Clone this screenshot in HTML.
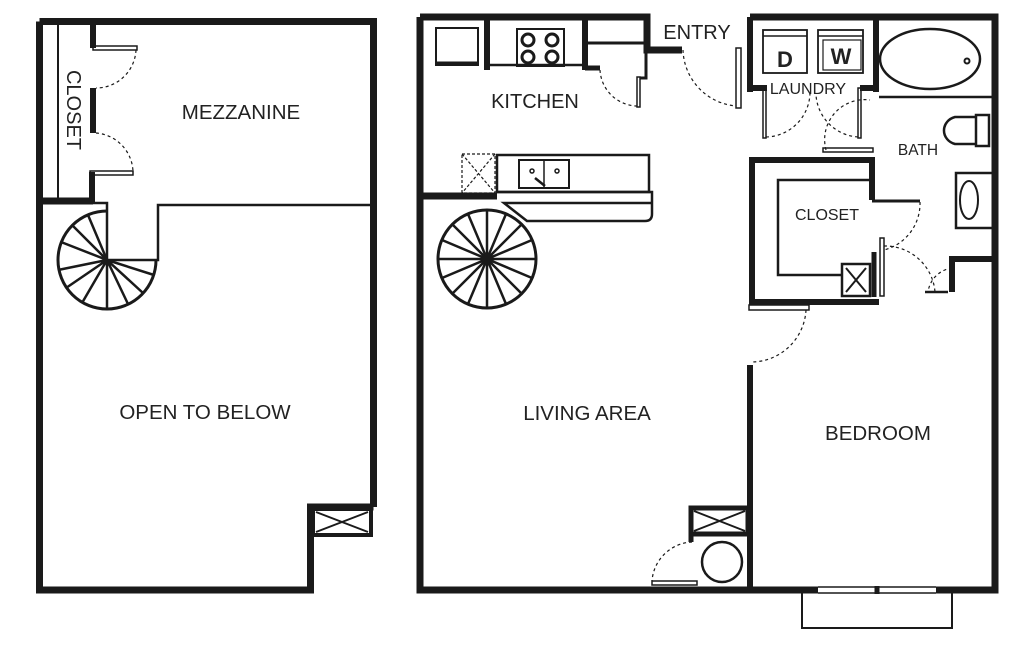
<!DOCTYPE html>
<html><head><meta charset="utf-8"><style>
html,body{margin:0;padding:0;background:#fff;}
svg{display:block;}
text{font-family:"Liberation Sans",sans-serif;fill:#222;}
</style></head><body>
<svg width="1024" height="646" viewBox="0 0 1024 646" xmlns="http://www.w3.org/2000/svg">
<g fill="none" stroke="#1a1a1a">
<!-- LEFT PLAN -->
<path d="M39.5 21.5 H373.5 V507 M39.5 21.5 V590 H310.5 V507 H373.5" stroke-width="7"/>
<rect x="313" y="509" width="58" height="26" stroke-width="4"/>
<path d="M316 512 L368 532 M368 512 L316 532" stroke-width="2"/>
<path d="M58 24 V200" stroke-width="2"/>
<path d="M39 201 H93" stroke-width="7"/>
<path d="M93 24 V48 M93 88 V133 M92 172 V203" stroke-width="6"/>
<rect x="93" y="46" width="44" height="4" stroke-width="1.5"/>
<rect x="90" y="171" width="43" height="4" stroke-width="1.5"/>
<path d="M136 50 A40 40 0 0 1 96 88 M96 133 A40 40 0 0 1 133 172" stroke-width="1.2" stroke-dasharray="3,3"/>
<path d="M93 203 H107 V260 H158 V205 H373" stroke-width="2.5"/>
<path d="M107 211 A49 49 0 1 0 156 260" stroke-width="3"/>
<g stroke-width="2.5">
<path d="M107 260 L88 215 M107 260 L72 225 M107 260 L61 242 M107 260 L58 270 M107 260 L66 288 M107 260 L82 303 M107 260 L107 309 M107 260 L128 304 M107 260 L143 293 M107 260 L154 275"/>
</g>
<!-- RIGHT PLAN outer -->
<path d="M420 17 V590 H995 V17 H750 M420 17 H647 V50 H682" stroke-width="7"/>
<path d="M750 17 V92 M876 17 V92" stroke-width="6"/>
<!-- kitchen -->
<rect x="436" y="28" width="42" height="37" stroke-width="2"/>
<path d="M436 63 H478" stroke-width="3"/>
<path d="M487 17 V70 M585 17 V70" stroke-width="6"/>
<path d="M487 65 H585" stroke-width="2.5"/>
<rect x="517" y="29" width="47" height="37" stroke-width="2"/>
<circle cx="528" cy="40" r="6" stroke-width="3"/><circle cx="552" cy="40" r="6" stroke-width="3"/>
<circle cx="528" cy="57" r="6" stroke-width="3"/><circle cx="552" cy="57" r="6" stroke-width="3"/>
<path d="M585 43 H646" stroke-width="3"/>
<path d="M585 68 H600" stroke-width="5"/>
<path d="M646 50 V78 H640" stroke-width="3"/>
<rect x="637" y="77" width="3" height="30" stroke-width="1.5"/>
<path d="M600 70 A38 38 0 0 0 637 106" stroke-width="1.2" stroke-dasharray="3,3"/>
<!-- entry door -->
<rect x="736" y="48" width="5" height="60" stroke-width="1.5"/>
<path d="M683 50 A58 58 0 0 0 736 106" stroke-width="1.2" stroke-dasharray="3,3"/>
<!-- laundry -->
<rect x="763" y="30" width="44" height="43" stroke-width="1.8"/>
<rect x="818" y="30" width="45" height="43" stroke-width="1.8"/>
<path d="M763 36 H807 M818 36 H863" stroke-width="1.5"/>
<rect x="823" y="40" width="38" height="30" stroke-width="1.2"/>
<path d="M750 88 H767 M860 88 H879" stroke-width="6"/>
<rect x="763" y="88" width="3" height="50" stroke-width="1.5"/>
<rect x="858" y="88" width="3" height="50" stroke-width="1.5"/>
<path d="M766 137 A45 45 0 0 0 810 92 M858 137 A45 45 0 0 1 816 95 M826 150 A40 40 0 0 1 870 100" stroke-width="1.2" stroke-dasharray="3,3"/>
<!-- bath -->
<path d="M879 97 H993" stroke-width="2.5"/>
<ellipse cx="930" cy="59" rx="50" ry="30" stroke-width="2.5"/>
<circle cx="967" cy="61" r="2.5" stroke-width="2"/>
<path d="M976 115 H989 V146 H976 Z" stroke-width="2.5"/>
<path d="M976 117 H955 A15 14 0 0 0 955 144 H976" stroke-width="2.5"/>
<rect x="956" y="173" width="37" height="55" stroke-width="2.5"/>
<ellipse cx="969" cy="200" rx="9" ry="19" stroke-width="2"/>
<path d="M949 259 H993 M952 259 V292" stroke-width="6"/>
<path d="M925 292 H948" stroke-width="2.5"/>
<path d="M952 268 A28 28 0 0 0 928 292" stroke-width="1.2" stroke-dasharray="3,3"/>
<!-- closet -->
<path d="M752 160 H872 V200 M752 157 V302 H879" stroke-width="6"/>
<rect x="823" y="148" width="50" height="4" stroke-width="1.5"/>
<path d="M872 201 H920" stroke-width="3"/>
<path d="M842 275 H778 V180 H869" stroke-width="2.5"/>
<rect x="842" y="264" width="28" height="32" stroke-width="2.5"/>
<path d="M846 268 L866 292 M866 268 L846 292" stroke-width="2"/>
<path d="M874 252 V297" stroke-width="5"/>
<rect x="880" y="238" width="4" height="58" stroke-width="1.5"/>
<path d="M920 202 A48 48 0 0 1 884 250 M884 246 A50 50 0 0 1 935 292" stroke-width="1.2" stroke-dasharray="3,3"/>
<!-- bedroom wall & door -->
<path d="M750 365 V590" stroke-width="6"/>
<rect x="749" y="305" width="60" height="5" stroke-width="1.5"/>
<path d="M806 310 A55 55 0 0 1 751 362" stroke-width="1.2" stroke-dasharray="3,3"/>
<!-- island -->
<path d="M420 196 H497" stroke-width="7"/>
<rect x="462" y="154" width="33" height="39" stroke-width="1.2" stroke-dasharray="3,2"/>
<path d="M462 154 L495 193 M495 154 L462 193" stroke-width="1.2" stroke-dasharray="3,2"/>
<rect x="497" y="155" width="152" height="37" stroke-width="2.5"/>
<rect x="519" y="160" width="50" height="28" stroke-width="2"/>
<path d="M544 160 V188" stroke-width="1.5"/>
<circle cx="532" cy="171" r="2" stroke-width="1.5"/><circle cx="557" cy="171" r="2" stroke-width="1.5"/>
<path d="M535 178 L545 186" stroke-width="2.5"/>
<path d="M497 192 H652 V214 Q652 221 645 221 H527 L504 203 H652" stroke-width="2.5"/>
<!-- spiral -->
<circle cx="487" cy="259" r="49" stroke-width="3"/>
<g stroke-width="2.5">
<path d="M487 210 V308 M438 259 H536 M452 224 L522 294 M522 224 L452 294 M468 214 L506 304 M506 214 L468 304 M442 240 L532 278 M532 240 L442 278"/>
</g>
<!-- bottom -->
<rect x="691" y="508" width="57" height="26" stroke-width="5"/>
<path d="M694 511 L745 531 M745 511 L694 531" stroke-width="2"/>
<path d="M691 534 V542" stroke-width="5"/>
<circle cx="722" cy="562" r="20" stroke-width="2.5"/>
<rect x="652" y="581" width="45" height="4" stroke-width="1.5"/>
<path d="M692 542 A42 42 0 0 0 652 581" stroke-width="1.2" stroke-dasharray="3,3"/>
<rect x="818" y="587" width="118" height="6" fill="#fff" stroke="none"/>
<path d="M818 587 H936 M818 593 H936" stroke-width="1.5"/>
<path d="M877 586 V594" stroke-width="5"/>
<path d="M802 593 V628 H952 V593" stroke-width="2"/>
</g>
<text x="241" y="119" font-size="20.5" text-anchor="middle">MEZZANINE</text>
<text x="0" y="0" font-size="20" text-anchor="middle" transform="translate(67,110) rotate(90)">CLOSET</text>
<text x="205" y="419" font-size="20.5" text-anchor="middle">OPEN TO BELOW</text>
<text x="587" y="420" font-size="20.5" text-anchor="middle">LIVING AREA</text>
<text x="878" y="440" font-size="20.5" text-anchor="middle">BEDROOM</text>
<text x="535" y="108" font-size="20" text-anchor="middle">KITCHEN</text>
<text x="697" y="39" font-size="20" text-anchor="middle">ENTRY</text>
<text x="808" y="94" font-size="16" text-anchor="middle">LAUNDRY</text>
<text x="918" y="155" font-size="15.5" text-anchor="middle">BATH</text>
<text x="827" y="220" font-size="16" text-anchor="middle">CLOSET</text>
<text x="785" y="67" font-size="22" font-weight="bold" text-anchor="middle">D</text>
<text x="841" y="64" font-size="22" font-weight="bold" text-anchor="middle">W</text>
</svg>
</body></html>
